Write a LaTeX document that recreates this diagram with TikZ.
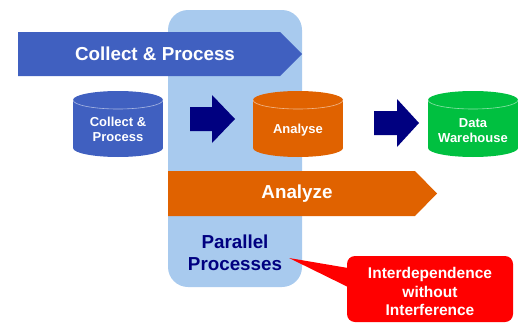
\documentclass[tikz,border=0pt]{standalone}
\usepackage{fontspec}
\setmainfont{Liberation Sans}
\definecolor{bandblue}{RGB}{64,96,192}
\definecolor{paneblue}{RGB}{168,202,238}
\definecolor{orangec}{RGB}{224,98,0}
\definecolor{greenc}{RGB}{0,192,64}
\definecolor{navyc}{RGB}{0,0,128}
\definecolor{redc}{RGB}{255,0,0}
\begin{document}
\begin{tikzpicture}[x=1pt,y=-1pt,
  bigtxt/.style={font=\bfseries\fontsize{18.8}{22}\selectfont, align=center, inner sep=0pt},
  cyltxt/.style={font=\bfseries\fontsize{13}{15}\selectfont, text=white, align=center, inner sep=0pt},
  calltxt/.style={font=\bfseries\fontsize{15.5}{18.5}\selectfont, text=white, align=center, inner sep=0pt},
  rimline/.style={draw=white, draw opacity=0.55, line width=0.6pt}]
\useasboundingbox (0,0) rectangle (522,324);
% pane
\fill[paneblue, rounded corners=20pt] (168,10) rectangle (302,287);
% Collect & Process band
\fill[bandblue] (18,32) -- (280,32) -- (302,54) -- (280,76) -- (18,76) -- cycle;
\node[bigtxt, text=white] (cpband) at (155,54) {Collect \& Process};
% Analyze band
\fill[orangec] (168,171) -- (415,171) -- (437,193.5) -- (415,216) -- (168,216) -- cycle;
\node[bigtxt, text=white] (anband) at (297,194) {Analyze};
% cylinders
\foreach \cx/\col in {118/bandblue, 298/orangec, 473/greenc}{
  \fill[\col] (\cx-45,100) rectangle (\cx+45,148);
  \fill[\col] (\cx,148) ellipse[x radius=45, y radius=9];
  \fill[\col] (\cx,100) ellipse[x radius=45, y radius=9];
  \draw[rimline] (\cx-45,100) arc[start angle=180, end angle=0, x radius=45, y radius=9];
}
\node[cyltxt] (cyl1) at (118,129.5) {Collect \&\\Process};
\node[cyltxt] (cyl2) at (298,130) {Analyse};
\node[cyltxt] (cyl3) at (473,130.5) {Data\\Warehouse};
% navy block arrows
\fill[navyc] (190,107) -- (212,107) -- (212,95) -- (235,119) -- (212,143) -- (212,131) -- (190,131) -- cycle;
\fill[navyc] (374,111) -- (397,111) -- (397,99) -- (419,123) -- (397,147) -- (397,135) -- (374,135) -- cycle;
% parallel processes label
\node[bigtxt, text=navyc] (par) at (235,253) {Parallel\\Processes};
% callout
\coordinate (tip) at (289,258);
\fill[redc, rounded corners=8pt] (347,256) rectangle (513,322);
\fill[redc] (tip) -- (348,268) -- (348,287) -- cycle;
\node[calltxt] (call) at (430,291.5) {Interdependence\\without\\Interference};
\end{tikzpicture}
\end{document}
